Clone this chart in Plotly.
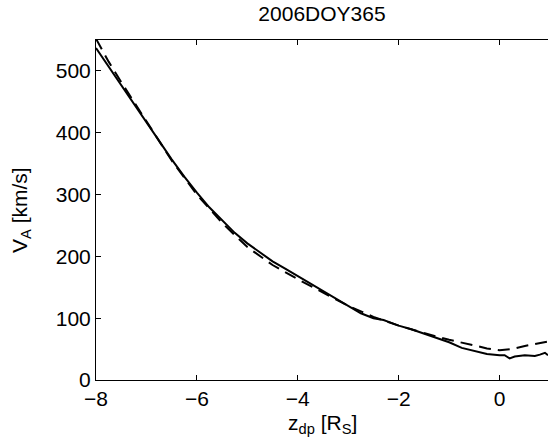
import plotly.graph_objects as go

# Observed (solid) curve
z_obs = [-8.0, -7.75, -7.5, -7.25, -7.0, -6.75, -6.5, -6.25, -6.0, -5.75, -5.5, -5.25,
         -5.0, -4.75, -4.5, -4.25, -4.0, -3.75, -3.6, -3.5, -3.25, -3.0, -2.75, -2.5,
         -2.3, -2.2, -2.0, -1.75, -1.5, -1.25, -1.0, -0.75, -0.5, -0.25, 0.0, 0.1,
         0.2, 0.3, 0.5, 0.7, 0.8, 0.9, 0.96]
va_obs = [537, 507, 477, 446, 416, 386, 357, 329, 303, 279, 258, 238,
          221, 206, 192, 180, 168, 156, 149, 144, 131, 120, 108, 100,
          97, 94, 88, 82, 75, 68, 61, 52, 47, 42, 40, 40,
          35, 38, 40, 39, 41, 44, 40]

# Model (dashed) curve
z_mod = [-8.0, -7.75, -7.5, -7.25, -7.0, -6.5, -6.0, -5.5, -5.0, -4.5, -4.0, -3.5,
         -3.0, -2.5, -2.0, -1.5, -1.0, -0.5, -0.25, 0.0, 0.25, 0.5, 0.75, 1.0]
va_mod = [552, 515, 482, 450, 418, 355, 300, 254, 215, 186, 163, 141,
          120, 102, 88, 76, 65, 56, 51, 48, 50, 55, 59, 63]

title_text = "2006DOY365"
x_label = "z<sub>dp</sub> [R<sub>S</sub>]"
y_label = "V<sub>A</sub> [km/s]"
x_ticks = [-8, -6, -4, -2, 0]
x_ticktext = ["\u22128", "\u22126", "\u22124", "\u22122", "0"]
y_ticks = [0, 100, 200, 300, 400, 500]

FONT = "Liberation Sans, Arial, Helvetica, sans-serif"
FS = 21

fig = go.Figure()
fig.add_trace(go.Scatter(x=z_mod, y=va_mod, mode="lines",
                         line=dict(color="black", width=2, dash="12px,7px"),
                         showlegend=False))
fig.add_trace(go.Scatter(x=z_obs, y=va_obs, mode="lines",
                         line=dict(color="black", width=2),
                         showlegend=False))

fig.update_layout(
    width=548, height=443,
    margin=dict(l=96, r=0, t=40, b=63),
    paper_bgcolor="white", plot_bgcolor="white",
    font=dict(family=FONT, size=FS, color="black"),
    title=dict(text=title_text, x=0.5, xref="paper", y=1 - 14 / 443,
               yref="container", yanchor="middle", xanchor="center",
               font=dict(family=FONT, size=FS, color="black")),
    xaxis=dict(range=[-8, 0.96], tickvals=x_ticks, ticktext=x_ticktext,
               ticks="inside", ticklen=5, tickcolor="black", tickwidth=1,
               showline=True, linecolor="black", linewidth=1, mirror="ticks",
               showgrid=False, zeroline=False,
               tickfont=dict(family=FONT, size=FS, color="black")),
    yaxis=dict(range=[0, 550], tickvals=y_ticks,
               ticks="inside", ticklen=5, tickcolor="black", tickwidth=1,
               showline=True, linecolor="black", linewidth=1, mirror=False,
               showgrid=False, zeroline=False,
               tickfont=dict(family=FONT, size=FS, color="black")),
)

fig.add_annotation(text=x_label, xref="paper", yref="paper",
                   x=(322.5 - 96) / 452, y=(380 - 424) / 340,
                   xanchor="center", yanchor="middle", showarrow=False,
                   font=dict(family=FONT, size=FS, color="black"))
fig.add_annotation(text=y_label, xref="paper", yref="paper",
                   x=(21 - 96) / 452, y=0.5, textangle=-90,
                   xanchor="center", yanchor="middle", showarrow=False,
                   font=dict(family=FONT, size=FS, color="black"))

fig.write_html("out.html")
